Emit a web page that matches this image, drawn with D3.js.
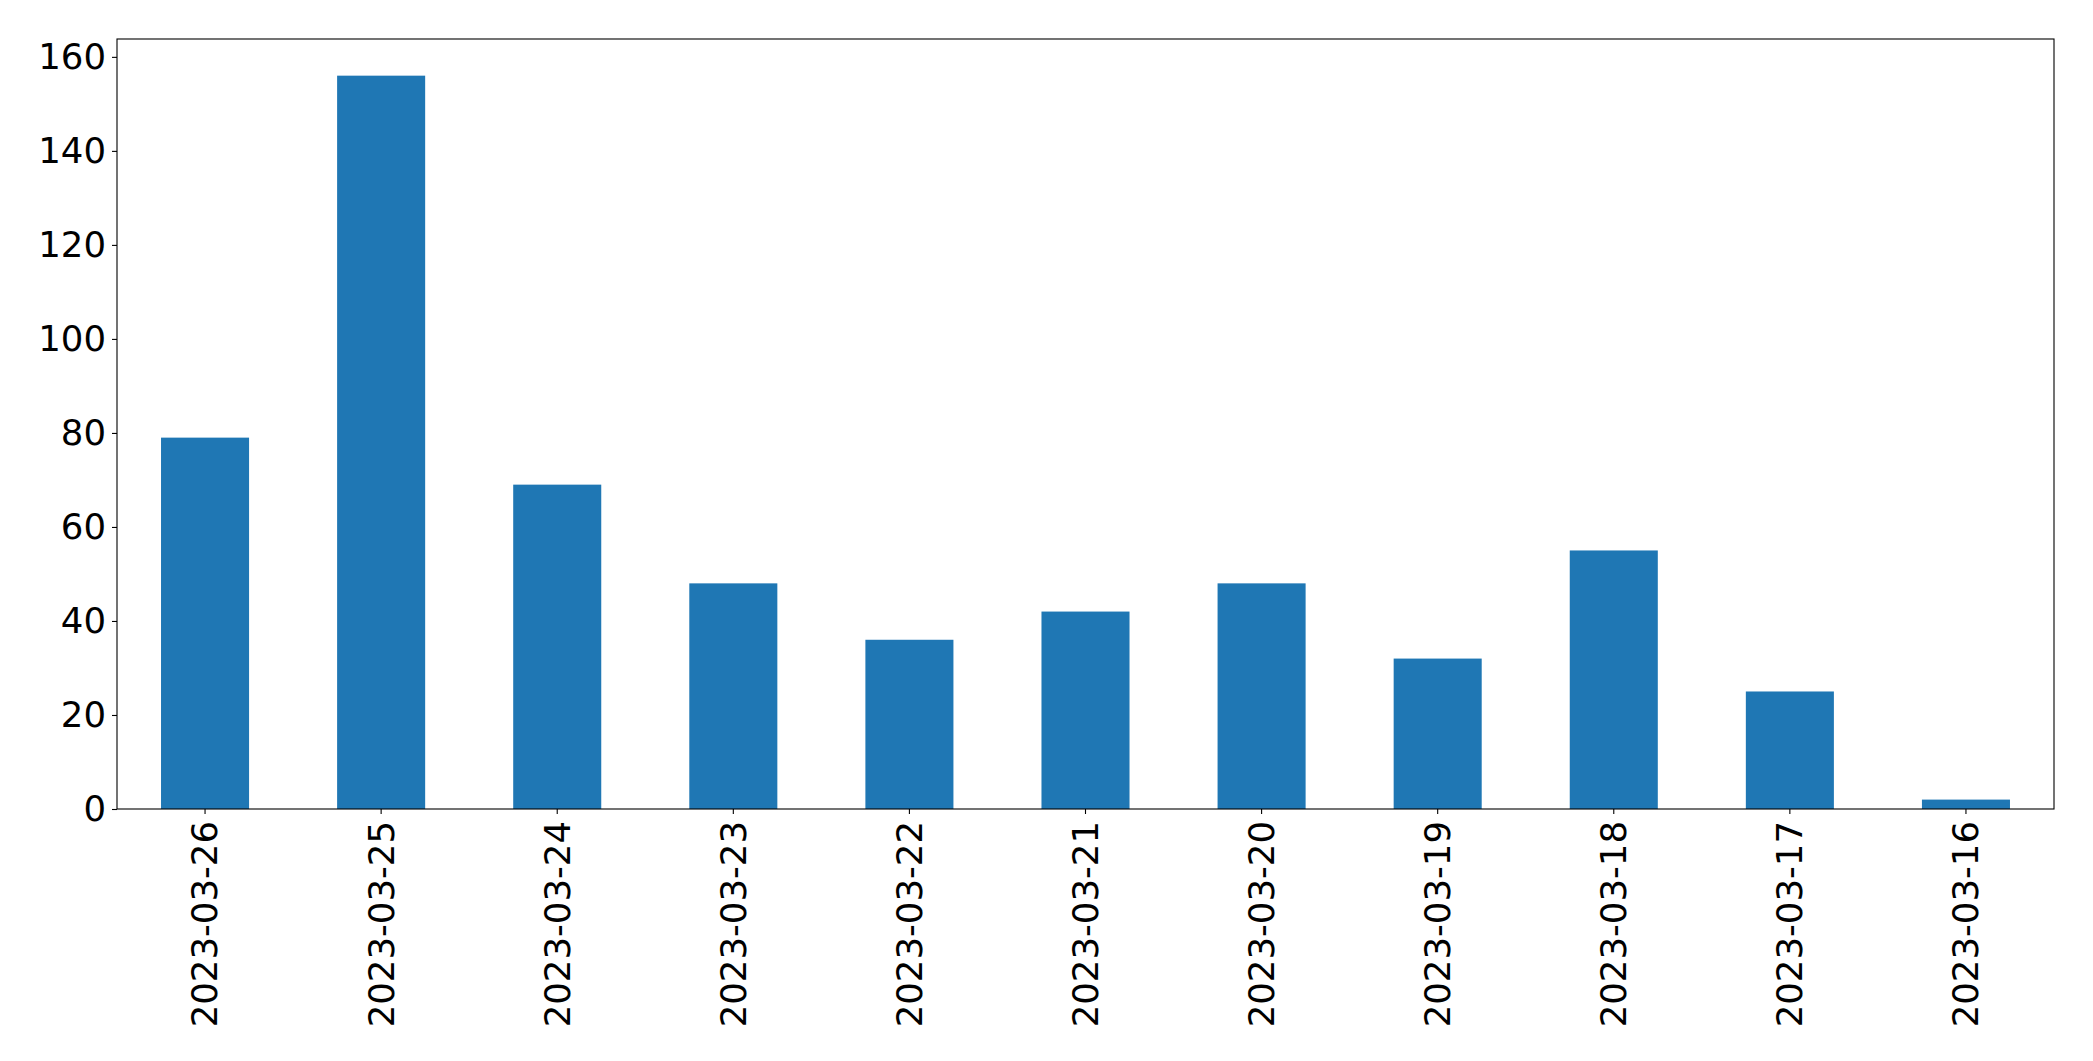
<!DOCTYPE html>
<html>
<head>
<meta charset="utf-8">
<script src="https://cdn.jsdelivr.net/npm/d3@7"></script>
<style>
  body { margin: 0; background: #fff; }
  svg text { font-family: "DejaVu Sans", sans-serif; }
</style>
</head>
<body>
<svg id="chart" width="2093" height="1061"></svg>
<script>
// Data
var dates = ["2023-03-26", "2023-03-25", "2023-03-24", "2023-03-23", "2023-03-22",
             "2023-03-21", "2023-03-20", "2023-03-19", "2023-03-18", "2023-03-17", "2023-03-16"];
var counts = [79, 156, 69, 48, 36, 42, 48, 32, 55, 25, 2];
var yTicks = [0, 20, 40, 60, 80, 100, 120, 140, 160];

var margin = {top: 39, right: 39, bottom: 252, left: 117};
var width = 2093 - margin.left - margin.right;
var height = 1061 - margin.top - margin.bottom;
var fontSize = "35.5px";

var svg = d3.select("#chart");
var g = svg.append("g").attr("transform", "translate(" + margin.left + "," + margin.top + ")");

var x = d3.scaleBand().domain(dates).range([0, width]).paddingInner(0.5).paddingOuter(0.25);
var y = d3.scaleLinear().domain([0, d3.max(counts) * 1.05]).range([height, 0]);

// bars
g.selectAll("rect.bar")
  .data(dates)
  .enter().append("rect")
  .attr("class", "bar")
  .attr("x", function (d) { return x(d); })
  .attr("y", function (d, i) { return y(counts[i]); })
  .attr("width", x.bandwidth())
  .attr("height", function (d, i) { return height - y(counts[i]); })
  .attr("fill", "#1f77b4");

// y axis
var yAxis = g.append("g")
  .call(d3.axisLeft(y).tickValues(yTicks).tickSize(5).tickPadding(6));
yAxis.select(".domain").remove();
yAxis.selectAll("line").attr("stroke", "#000").attr("stroke-width", 1.1);
yAxis.selectAll("text").style("font-size", fontSize).attr("fill", "#000");

// x axis
var xAxis = g.append("g")
  .attr("transform", "translate(0," + height + ")")
  .call(d3.axisBottom(x).tickSize(5).tickPadding(5));
xAxis.select(".domain").remove();
xAxis.selectAll("line").attr("stroke", "#000").attr("stroke-width", 1.1);
xAxis.selectAll("text")
  .style("font-size", fontSize)
  .attr("fill", "#000")
  .attr("transform", "rotate(-90)")
  .attr("x", -12)
  .attr("y", 0)
  .attr("dy", "0.35em")
  .attr("text-anchor", "end");

// frame
g.append("rect")
  .attr("width", width)
  .attr("height", height)
  .attr("fill", "none")
  .attr("stroke", "#000")
  .attr("stroke-width", 1.1);
</script>
</body>
</html>
